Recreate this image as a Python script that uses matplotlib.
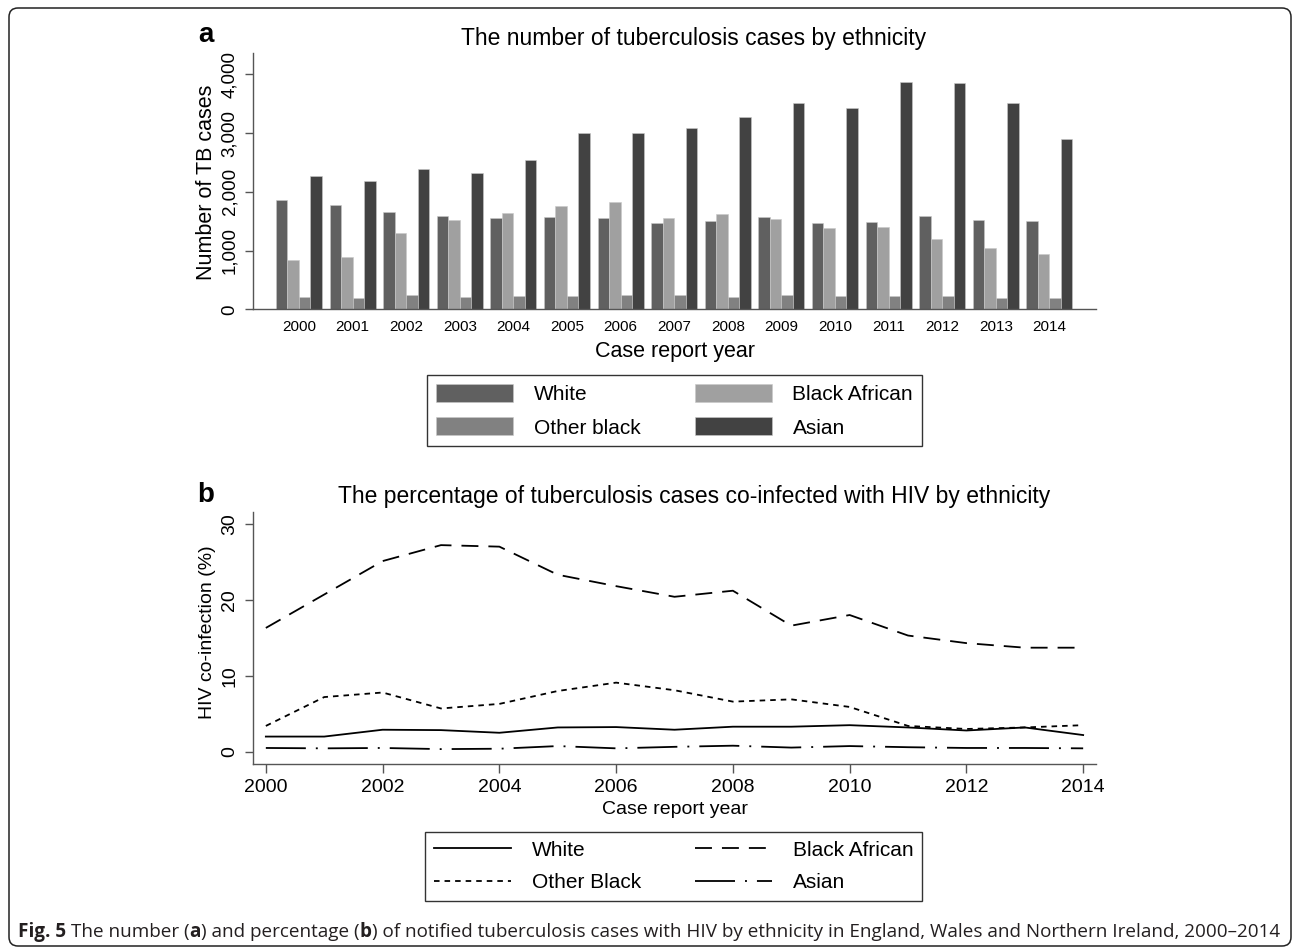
import matplotlib
matplotlib.use('Agg')
import matplotlib.pyplot as plt
from matplotlib.patches import Patch, FancyBboxPatch
from matplotlib.lines import Line2D
from matplotlib.transforms import IdentityTransform

plt.rcParams['font.family'] = ['Liberation Sans', 'DejaVu Sans']
plt.rcParams['lines.scale_dashes'] = False

# data
years = list(range(2000, 2015))
groups = ['White', 'Black African', 'Other black', 'Asian']

white_cases = [1855, 1782, 1662, 1594, 1555, 1566, 1555, 1470, 1504, 1566, 1470, 1487, 1583, 1526, 1509]
black_african_cases = [845, 891, 1294, 1526, 1640, 1759, 1821, 1560, 1623, 1538, 1379, 1401, 1197, 1038, 948]
other_black_cases = [210, 193, 244, 210, 233, 227, 244, 244, 210, 244, 221, 227, 227, 193, 193]
asian_cases = [2275, 2184, 2383, 2326, 2542, 3002, 2996, 3081, 3274, 3518, 3433, 3870, 3853, 3518, 2900]

white_hiv = [2.0, 2.0, 2.9, 2.85, 2.5, 3.2, 3.25, 2.9, 3.3, 3.3, 3.5, 3.2, 2.8, 3.2, 2.2]
black_african_hiv = [16.3, 20.7, 25.1, 27.2, 27.0, 23.3, 21.8, 20.4, 21.2, 16.6, 18.0, 15.3, 14.3, 13.7, 13.7]
other_black_hiv = [3.4, 7.2, 7.8, 5.7, 6.3, 8.0, 9.1, 8.1, 6.6, 6.9, 5.9, 3.4, 3.0, 3.2, 3.5]
asian_hiv = [0.5, 0.45, 0.5, 0.35, 0.4, 0.75, 0.45, 0.65, 0.8, 0.55, 0.75, 0.6, 0.5, 0.5, 0.45]

W, H = 1292, 949


def fx(px):
    return px / W


def fy(py):
    return 1 - py / H


fig = plt.figure(figsize=(W / 100, H / 100), dpi=100)
axis_col = '#555555'

# ---- panel a: bars
ax_a = fig.add_axes([fx(253), fy(309.3), (1096 - 253) / W, (309.3 - 53.3) / H])
bar_w = 0.2145
bar_cols = ['#606060', '#a0a0a0', '#818181', '#424242']
series = [white_cases, black_african_cases, other_black_cases, asian_cases]
xs = list(range(len(years)))
for k, vals in enumerate(series):
    ax_a.bar([x + (k - 1.5) * bar_w for x in xs], vals, width=bar_w,
             color=bar_cols[k], edgecolor='#c8c8c8', linewidth=0.4)
ax_a.set_xlim(-0.858, 14.87)
ax_a.set_ylim(0, 4357)
ax_a.set_yticks([0, 1000, 2000, 3000, 4000])
ax_a.set_yticklabels(['{:,}'.format(v) for v in [0, 1000, 2000, 3000, 4000]],
                     rotation=90, va='center')
ax_a.set_xticks(xs)
ax_a.set_xticklabels([str(y) for y in years])
ax_a.tick_params(axis='x', length=0, pad=8, labelsize=11)
ax_a.tick_params(axis='y', length=5.8, width=1, color=axis_col, pad=5, labelsize=13.5)

# ---- panel b: lines
ax_b = fig.add_axes([fx(253), fy(764.3), (1096 - 253) / W, (764.3 - 511.7) / H])
lw = 1.3
ax_b.plot(years, white_hiv, color='black', lw=lw, label='White')
ax_b.plot(years, black_african_hiv, color='black', lw=lw, dashes=(12.2, 7.2), label='Black African')
ax_b.plot(years, other_black_hiv, color='black', lw=lw, dashes=(4.0, 3.6), label='Other Black')
ax_b.plot(years, asian_hiv, color='black', lw=lw, dashes=(28.8, 7.2, 1.4, 7.2), label='Asian')
ax_b.set_xlim(1999.78, 2014.22)
ax_b.set_ylim(-1.65, 31.6)
ax_b.set_xticks(list(range(2000, 2015, 2)))
ax_b.set_yticks([0, 10, 20, 30])
ax_b.set_yticklabels(['0', '10', '20', '30'], rotation=90, va='center')
ax_b.tick_params(axis='x', length=6.5, width=1, color=axis_col, pad=4, labelsize=14)
ax_b.tick_params(axis='y', length=5.8, width=1, color=axis_col, pad=5, labelsize=14)

for ax in (ax_a, ax_b):
    ax.spines['top'].set_visible(False)
    ax.spines['right'].set_visible(False)
    for s in ('left', 'bottom'):
        ax.spines[s].set_color(axis_col)
        ax.spines[s].set_linewidth(1.0)
    ax.patch.set_alpha(0)

# titles and axis titles
fig.text(fx(206), fy(42), 'a', fontsize=20, fontweight='bold', ha='center', va='baseline')
fig.text(fx(206), fy(502), 'b', fontsize=20, fontweight='bold', ha='center', va='baseline')
fig.text(fx(694), fy(45), 'The number of tuberculosis cases by ethnicity',
         fontsize=16.5, ha='center', va='baseline')
fig.text(fx(694), fy(503), 'The percentage of tuberculosis cases co-infected with HIV by ethnicity',
         fontsize=16.5, ha='center', va='baseline')
fig.text(fx(207), fy(182), 'Number of TB cases', fontsize=15.5, rotation=90, ha='center', va='center')
fig.text(fx(675), fy(352), 'Case report year', fontsize=15.5, ha='center', va='center')
fig.text(fx(207), fy(632), 'HIV co-infection (%)', fontsize=14, rotation=90, ha='center', va='center')
fig.text(fx(675), fy(810), 'Case report year', fontsize=14, ha='center', va='center')

# legends
order = [0, 2, 1, 3]
bar_handles = [Patch(facecolor=bar_cols[i], edgecolor='#c8c8c8', linewidth=0.4) for i in order]
bar_labels = [groups[i] for i in order]
leg_a = fig.legend(bar_handles, bar_labels, loc='upper left', bbox_to_anchor=(fx(427), fy(375)),
                   ncol=2, fontsize=15, frameon=True, fancybox=False, edgecolor='#333333',
                   framealpha=1, borderaxespad=0, borderpad=0.42, handlelength=3.7,
                   handleheight=0.96, handletextpad=1.0, columnspacing=2.6, labelspacing=0.64)
leg_a.get_frame().set_linewidth(1.0)

line_handles, line_labels = ax_b.get_legend_handles_labels()
line_order = [0, 2, 1, 3]
leg_b = fig.legend([line_handles[i] for i in line_order], [line_labels[i] for i in line_order],
                   loc='upper left', bbox_to_anchor=(fx(425), fy(832)),
                   ncol=2, fontsize=15, frameon=True, fancybox=False, edgecolor='#333333',
                   framealpha=1, borderaxespad=0, borderpad=0.42, handlelength=3.7,
                   handletextpad=1.0, columnspacing=2.6, labelspacing=0.64)
leg_b.get_frame().set_linewidth(1.0)

# rounded border round the whole figure
border = FancyBboxPatch((9, 3), 1282, 938, boxstyle='round,pad=0,rounding_size=9',
                        transform=IdentityTransform(), facecolor='none',
                        edgecolor='#222222', linewidth=1.1)
fig.add_artist(border)

# caption with bold pieces
cap_parts = [('Fig. 5', True), (' ', False), ('The number (', False), ('a', True),
             (') and percentage (', False), ('b', True),
             (') of notified tuberculosis cases with HIV by ethnicity in England, '
              'Wales and Northern Ireland, 2000\u20132014', False)]
renderer = fig.canvas.get_renderer()


def piece_width(txt, bold, size):
    if txt == ' ':
        w2 = piece_width('x x', bold, size)
        w1 = piece_width('xx', bold, size)
        return w2 - w1
    t = fig.text(0, 0, txt, fontsize=size, family='Open Sans',
                 fontweight='bold' if bold else 'normal')
    w = t.get_window_extent(renderer=renderer).width
    t.remove()
    return w


cap_left, cap_right = 18, 1278
base = 10.0
total = sum(piece_width(t, b, base) for t, b in cap_parts)
cap_size = base * (cap_right - cap_left) / total
x = cap_left
for txt, bold in cap_parts:
    if txt != ' ':
        fig.text(fx(x), fy(937), txt, fontsize=cap_size, family='Open Sans',
                 fontweight='bold' if bold else 'normal', color='#231f20',
                 ha='left', va='baseline')
    x += piece_width(txt, bold, cap_size)

fig.savefig('out.png', dpi=100)
